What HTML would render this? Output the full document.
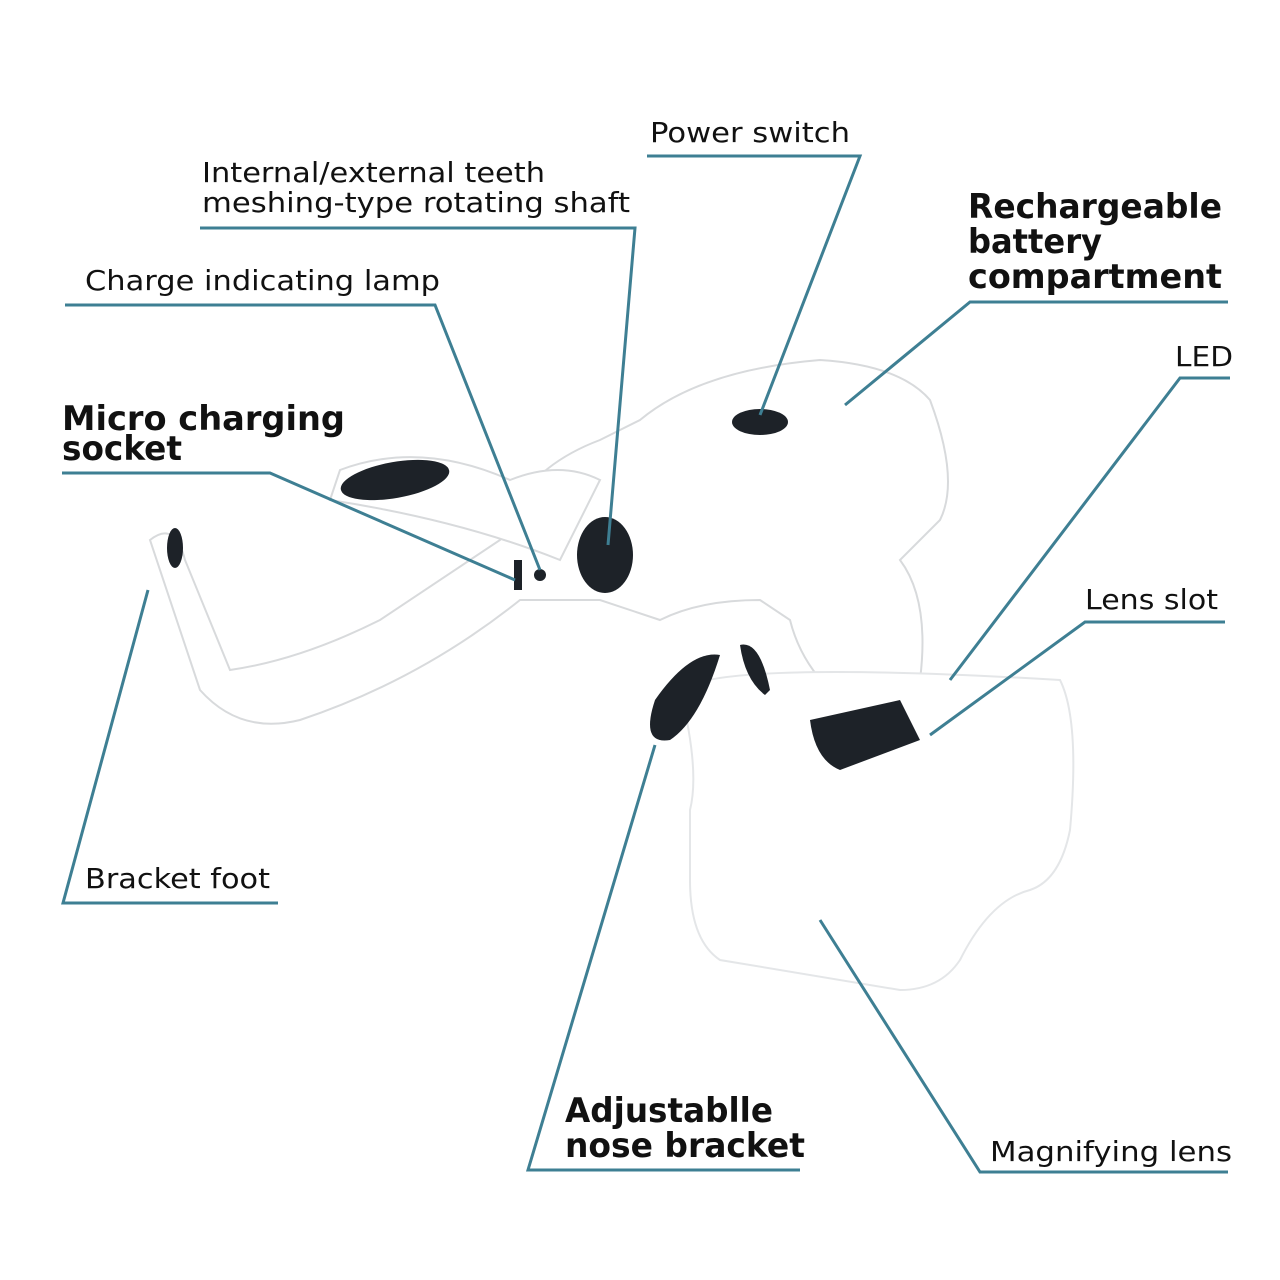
<!DOCTYPE html>
<html><head><style>
html,body{margin:0;padding:0;background:#fff}
svg{display:block}
text{font-family:"DejaVu Sans","Liberation Sans",sans-serif;fill:#111}
.b{font-weight:bold;font-size:34px}
.n{font-size:28px}
</style></head><body>
<svg width="1280" height="1280" viewBox="0 0 1280 1280" xmlns="http://www.w3.org/2000/svg">
<!-- device -->
<g fill="#fff" stroke="#d8dadc" stroke-width="2">
<path d="M150 540 Q175 520 185 560 L230 670 Q300 660 380 620 L500 540 Q520 470 600 440 L640 420 Q700 370 820 360 Q900 365 930 400 Q960 480 940 520 L900 560 Q930 600 920 680 L900 700 Q870 700 830 690 Q800 660 790 620 L760 600 Q700 600 660 620 L600 600 L520 600 Q420 680 300 720 Q240 735 200 690 Z"/>
<path d="M340 470 Q420 440 510 480 Q560 460 600 480 L560 560 Q460 520 330 500 Z"/>
<path d="M680 690 Q720 660 1060 680 Q1080 720 1070 830 Q1060 880 1030 890 Q990 900 960 960 Q940 990 900 990 L720 960 Q690 940 690 880 L690 810 Q700 770 680 690 Z" stroke="#e4e6e8"/>
</g>
<ellipse cx="395" cy="480" rx="55" ry="18" fill="#1d2228" transform="rotate(-10 395 480)"/>
<ellipse cx="175" cy="548" rx="8" ry="20" fill="#1d2228"/>
<ellipse cx="760" cy="422" rx="28" ry="13" fill="#1d2228"/>
<ellipse cx="605" cy="555" rx="28" ry="38" fill="#1d2228"/>
<circle cx="540" cy="575" r="6" fill="#1d2228"/>
<rect x="514" y="560" width="8" height="30" fill="#1d2228"/>
<path d="M655 700 Q690 650 720 655 Q700 720 670 740 Q640 745 655 700Z" fill="#1d2228"/>
<path d="M740 645 Q760 640 770 690 L765 695 Q745 680 740 645Z" fill="#1d2228"/>
<path d="M810 720 L900 700 L920 740 L840 770 Q815 760 810 720Z" fill="#1d2228"/>
<!-- connectors -->
<g stroke="#3e7f93" stroke-width="3" fill="none">
<polyline points="647,156 860,156 760,415"/>
<polyline points="200,228 635,228 608,545"/>
<polyline points="65,305 435,305 540,570"/>
<polyline points="62,473 270,473 515,580"/>
<polyline points="1228,302 970,302 845,405"/>
<polyline points="1230,378 1180,378 950,680"/>
<polyline points="1225,622 1085,622 930,735"/>
<polyline points="278,903 63,903 148,590"/>
<polyline points="800,1170 528,1170 655,745"/>
<polyline points="1228,1172 980,1172 820,920"/>
</g>
<!-- labels -->
<text class="n" x="650" y="142" textLength="200" lengthAdjust="spacingAndGlyphs">Power switch</text>
<text class="n" x="202" y="182" textLength="343" lengthAdjust="spacingAndGlyphs">Internal/external teeth</text>
<text class="n" x="202" y="212" textLength="428" lengthAdjust="spacingAndGlyphs">meshing-type rotating shaft</text>
<text class="n" x="85" y="290" textLength="355" lengthAdjust="spacingAndGlyphs">Charge indicating lamp</text>
<text class="b" x="62" y="430" textLength="283" lengthAdjust="spacingAndGlyphs">Micro charging</text>
<text class="b" x="62" y="460" textLength="120" lengthAdjust="spacingAndGlyphs">socket</text>
<text class="b" x="968" y="218" textLength="254" lengthAdjust="spacingAndGlyphs">Rechargeable</text>
<text class="b" x="968" y="253" textLength="134" lengthAdjust="spacingAndGlyphs">battery</text>
<text class="b" x="968" y="288" textLength="254" lengthAdjust="spacingAndGlyphs">compartment</text>
<text class="n" x="1175" y="366" textLength="58" lengthAdjust="spacingAndGlyphs">LED</text>
<text class="n" x="1085" y="609" textLength="133" lengthAdjust="spacingAndGlyphs">Lens slot</text>
<text class="n" x="85" y="888" textLength="185" lengthAdjust="spacingAndGlyphs">Bracket foot</text>
<text class="b" x="565" y="1122" textLength="208" lengthAdjust="spacingAndGlyphs">Adjustablle</text>
<text class="b" x="565" y="1157" textLength="240" lengthAdjust="spacingAndGlyphs">nose bracket</text>
<text class="n" x="990" y="1161" textLength="242" lengthAdjust="spacingAndGlyphs">Magnifying lens</text>
</svg>
</body></html>
